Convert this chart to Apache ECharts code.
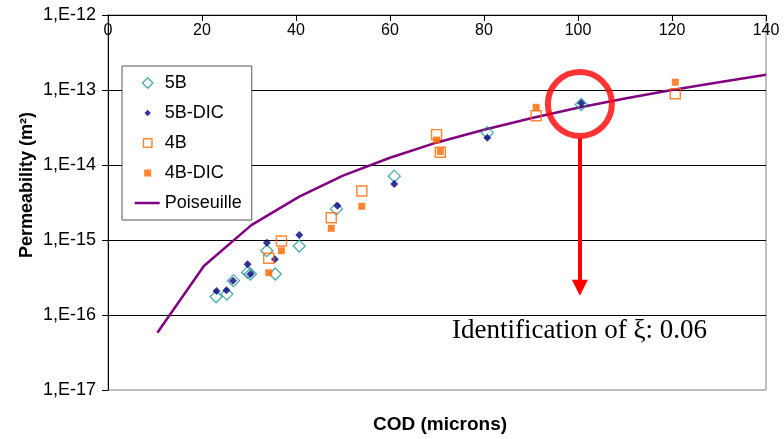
<!DOCTYPE html>
<html><head><meta charset="utf-8">
<script src="https://cdn.jsdelivr.net/npm/echarts@6/dist/echarts.min.js"></script>
<style>html,body{margin:0;padding:0;background:#fff}#c{width:784px;height:439px}</style>
</head><body><div id="c"></div>
<script>
// ---- data ----
const xTickLabels = ['0','20','40','60','80','100','120','140'];
const yTickLabels = ['1,E-17','1,E-16','1,E-15','1,E-14','1,E-13','1,E-12'];

const cod5B  = [23.0, 25.3, 26.7, 29.7, 30.3, 33.8, 35.6, 40.7, 48.6, 60.9, 80.7, 100.7];
const perm5B = [1.75e-16, 1.9e-16, 2.87e-16, 3.7e-16, 3.52e-16, 7.2e-16, 3.52e-16, 8.3e-16, 2.6e-15, 7.1e-15, 2.7e-14, 6.4e-14];

const cod5BDIC  = [23.1, 25.2, 26.6, 29.7, 30.3, 33.8, 35.5, 40.7, 48.8, 60.9, 80.7, 100.7];
const perm5BDIC = [2.09e-16, 2.13e-16, 2.87e-16, 4.74e-16, 3.52e-16, 9.2e-16, 5.53e-16, 1.17e-15, 2.87e-15, 5.58e-15, 2.31e-14, 6.65e-14];

const cod4B  = [34.2, 36.9, 47.5, 54.0, 69.9, 70.7, 91.1, 120.7];
const perm4B = [5.7e-16, 9.7e-16, 1.98e-15, 4.5e-15, 2.54e-14, 1.48e-14, 4.54e-14, 8.9e-14];

const cod4BDIC  = [34.2, 36.9, 47.5, 54.0, 69.9, 70.7, 91.1, 120.7];
const perm4BDIC = [3.66e-16, 7.2e-16, 1.43e-15, 2.81e-15, 2.15e-14, 1.52e-14, 5.88e-14, 1.27e-13];

const codPois  = [10.5, 20.4, 30.5, 40.7, 50, 60, 70, 80, 90, 100, 110, 120, 130, 140];
const permPois = [5.8e-17, 4.5e-16, 1.58e-15, 3.78e-15, 7.2e-15, 1.25e-14, 2.0e-14, 2.95e-14, 4.2e-14, 5.8e-14, 7.7e-14, 1.0e-13, 1.27e-13, 1.6e-13];

// annotation (data space)
const circleAt   = [100.4, 6.5e-14];
const arrowFrom  = [100.4, 2.3e-14];
const arrowTo    = [100.4, 2.3e-16];
const annotText  = 'Identification of \u03BE: 0.06';

const seriesNames = ['5B', '5B-DIC', '4B', '4B-DIC', 'Poiseuille'];

// ---- build ----
const zip = (a, b) => a.map((v, i) => [v, b[i]]);
const FONT = 'Liberation Sans, Arial, sans-serif';
const TEAL = '#1a9696', NAVY = '#000080', ORANGE = '#FF6600', PURPLE = '#800080';

const chart = echarts.init(document.getElementById('c'), null, {renderer: 'canvas'});
chart.setOption({
  animation: false,
  backgroundColor: '#fff',
  grid: {left: 108, right: 18, top: 15, bottom: 49, show: true, borderColor: '#808080', borderWidth: 1},
  xAxis: {
    type: 'value', position: 'top', min: 0, max: 140, interval: 20,
    axisLine: {show: true, lineStyle: {color: '#000', width: 1}},
    axisTick: {show: true, inside: true, length: 6, lineStyle: {color: '#000'}},
    axisLabel: {inside: true, margin: 8, color: '#000', fontSize: 16, fontFamily: FONT,
      formatter: v => xTickLabels[Math.round(v / 20)]},
    splitLine: {show: false}
  },
  yAxis: {
    type: 'log', logBase: 10, min: 1e-17, max: 1e-12,
    axisLine: {show: true, lineStyle: {color: '#000', width: 1}},
    axisTick: {show: true, inside: false, length: 6, lineStyle: {color: '#000'}},
    axisLabel: {margin: 12, color: '#000', fontSize: 18, fontFamily: FONT,
      formatter: v => yTickLabels[Math.round(Math.log10(v)) + 17]},
    splitLine: {show: true, showMinLine: false, showMaxLine: false, lineStyle: {color: '#000', width: 1}},
    minorTick: {show: false}
  },
  legend: {
    orient: 'vertical', left: 122, top: 66,
    backgroundColor: '#fff', borderColor: '#555', borderWidth: 1,
    padding: [8, 10, 8, 12], itemGap: 12, itemWidth: 25, itemHeight: 14,
    selectedMode: false,
    textStyle: {fontSize: 18, color: '#000', fontFamily: FONT},
    data: [
      {name: seriesNames[0], icon: 'path://M0,0M25,14M13,1.75L18.25,7L13,12.25L7.75,7Z',
        itemStyle: {color: 'rgba(0,0,0,0)', borderColor: TEAL, borderWidth: 1.3}},
      {name: seriesNames[1], icon: 'path://M0,0M25,14M13,3.75L16.25,7L13,10.25L9.75,7Z',
        itemStyle: {color: NAVY, borderWidth: 0}},
      {name: seriesNames[2], icon: 'path://M0,0M25,14M8.75,2.75L17.25,2.75L17.25,11.25L8.75,11.25Z',
        itemStyle: {color: 'rgba(0,0,0,0)', borderColor: ORANGE, borderWidth: 1.4}},
      {name: seriesNames[3], icon: 'path://M0,0M25,14M9.5,3.5L16.5,3.5L16.5,10.5L9.5,10.5Z',
        itemStyle: {color: ORANGE, borderWidth: 0}},
      {name: seriesNames[4], icon: 'path://M0,0M25,14M0,5.75L25,5.75L25,8.25L0,8.25Z',
        itemStyle: {color: PURPLE, borderWidth: 0}}
    ]
  },
  series: [
    {name: seriesNames[4], type: 'line', data: zip(codPois, permPois), symbol: 'none',
      lineStyle: {color: PURPLE, width: 2.5}, itemStyle: {color: PURPLE}, z: 2, silent: true},
    {name: seriesNames[0], type: 'scatter', data: zip(cod5B, perm5B), symbol: 'diamond', symbolSize: 12,
      itemStyle: {color: 'rgba(0,0,0,0)', borderColor: TEAL, borderWidth: 1.3}, z: 3},
    {name: seriesNames[1], type: 'scatter', data: zip(cod5BDIC, perm5BDIC), symbol: 'diamond', symbolSize: 8,
      itemStyle: {color: NAVY}, z: 4},
    {name: seriesNames[2], type: 'scatter', data: zip(cod4B, perm4B), symbol: 'rect', symbolSize: 10,
      itemStyle: {color: 'rgba(0,0,0,0)', borderColor: ORANGE, borderWidth: 1.4}, z: 5},
    {name: seriesNames[3], type: 'scatter', data: zip(cod4BDIC, perm4BDIC), symbol: 'rect', symbolSize: 7,
      itemStyle: {color: ORANGE}, z: 6},
    {name: 'annotation', type: 'scatter', data: [circleAt], symbol: 'circle', symbolSize: 64, silent: true, z: 7,
      itemStyle: {color: 'rgba(0,0,0,0)', borderColor: '#FF0000', borderWidth: 6},
      markLine: {silent: true, symbol: ['none', 'triangle'], symbolSize: 16, animation: false,
        label: {show: false},
        lineStyle: {color: '#FF0000', width: 4, type: 'solid'},
        data: [[{coord: arrowFrom}, {coord: arrowTo}]]}}
  ],
  graphic: [
    {type: 'text', x: 452, y: 331, style: {text: annotText, font: '27px "Liberation Serif", "Times New Roman", serif',
      fill: '#000', textAlign: 'left', textVerticalAlign: 'middle'}},
    {type: 'text', x: 27, y: 185, rotation: Math.PI / 2, style: {text: 'Permeability (m\u00B2)',
      font: 'bold 18px ' + FONT, fill: '#000', textAlign: 'center', textVerticalAlign: 'middle'}},
    {type: 'text', x: 440, y: 425, style: {text: 'COD (microns)',
      font: 'bold 19px ' + FONT, fill: '#000', textAlign: 'center', textVerticalAlign: 'middle'}}
  ]
});
</script></body></html>
